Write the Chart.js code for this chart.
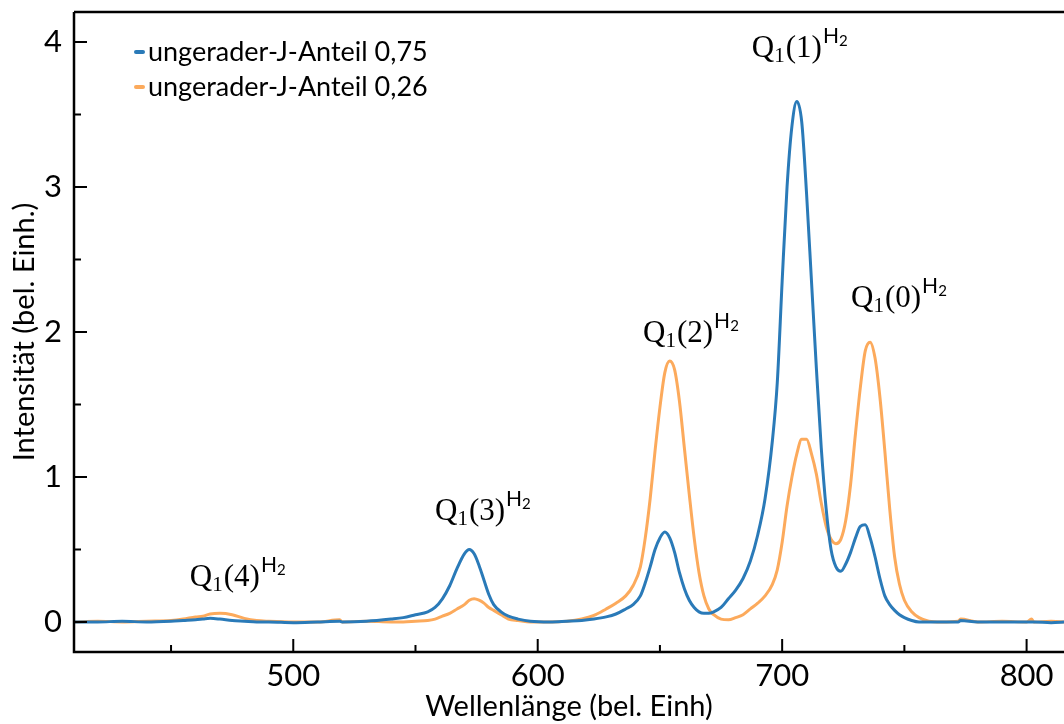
<!DOCTYPE html>
<html>
<head>
<meta charset="utf-8">
<script src="https://cdn.jsdelivr.net/npm/chart.js@4.4.1/dist/chart.umd.min.js"></script>
<style>
  html, body { margin: 0; padding: 0; background: #fff; }
  #wrap { width: 1064px; height: 724px; position: relative; }
</style>
</head>
<body>
<div id="wrap"><canvas id="spectrumChart"></canvas></div>
<script>
// wavelength grid (bel. Einh) shared by both spectra
const wavelengths = [
  410, 420, 430, 440, 450, 455, 460, 463, 466, 470, 475, 480, 485, 490, 500, 510, 519, 520, 530, 540,
  545, 550, 555, 558, 561, 564, 567, 570, 572, 574, 576, 578, 580, 582, 585, 588, 592, 597, 605, 612,
  618, 623, 628, 632, 636, 639, 642, 644, 646, 648, 650, 652, 654, 656, 658, 660, 662, 664, 666, 668,
  670, 672, 675, 678, 681, 684, 687, 690, 693, 696, 698, 700, 702, 704, 706, 708, 710, 712, 714, 716,
  718, 720, 722, 724, 726, 728, 730, 732, 734, 736, 738, 740, 742, 744, 746, 748, 750, 753, 756, 760,
  765, 772, 773, 780, 790, 800, 802, 803, 810, 816
];

// ungerader-J-Anteil 0,75
const intensityOdd075 = [
  0.0, 0.0, 0.005, 0.0, 0.005, 0.01, 0.015, 0.02, 0.025, 0.02, 0.01, 0.005, 0.0, 0.0, -0.005, 0.0, 0.005, 0.0, 0.005, 0.02,
  0.03, 0.05, 0.07, 0.10, 0.16, 0.25, 0.37, 0.47, 0.50, 0.47, 0.39, 0.29, 0.19, 0.12, 0.07, 0.04, 0.02, 0.005, 0.0, 0.005,
  0.01, 0.02, 0.035, 0.055, 0.09, 0.12, 0.18, 0.27, 0.38, 0.50, 0.58, 0.62, 0.58, 0.48, 0.34, 0.23, 0.15, 0.10, 0.07, 0.06,
  0.06, 0.07, 0.10, 0.16, 0.22, 0.30, 0.42, 0.60, 0.85, 1.25, 1.65, 2.35, 3.0, 3.42, 3.59, 3.45, 2.95, 2.35, 1.75, 1.2,
  0.78, 0.5, 0.38, 0.35, 0.40, 0.48, 0.58, 0.66, 0.67, 0.58, 0.45, 0.30, 0.18, 0.12, 0.08, 0.05, 0.03, 0.01, 0.0, 0.0,
  0.0, 0.0, 0.01, 0.0, 0.0, 0.0, 0.0, 0.0, -0.005, 0.0
];

// ungerader-J-Anteil 0,26
const intensityOdd026 = [
  0.0, 0.005, 0.0, 0.005, 0.01, 0.02, 0.035, 0.04, 0.055, 0.06, 0.05, 0.025, 0.01, 0.005, 0.0, 0.0, 0.015, 0.0, 0.005, 0.0,
  0.0, 0.005, 0.01, 0.02, 0.04, 0.06, 0.09, 0.12, 0.15, 0.16, 0.15, 0.13, 0.10, 0.08, 0.05, 0.02, 0.01, 0.0, 0.0, 0.005,
  0.02, 0.045, 0.09, 0.13, 0.18, 0.25, 0.38, 0.58, 0.85, 1.18, 1.48, 1.72, 1.80, 1.74, 1.52, 1.20, 0.88, 0.58, 0.34, 0.18,
  0.09, 0.05, 0.02, 0.015, 0.03, 0.05, 0.09, 0.13, 0.18, 0.26, 0.36, 0.55, 0.80, 1.0, 1.16, 1.26, 1.26, 1.16, 1.02, 0.82,
  0.66, 0.57, 0.54, 0.57, 0.70, 0.95, 1.30, 1.62, 1.87, 1.93, 1.82, 1.55, 1.18, 0.78, 0.45, 0.26, 0.15, 0.07, 0.03, 0.005,
  0.0, 0.005, 0.02, 0.0, 0.005, 0.0, 0.02, 0.0, 0.005, 0.0
];

const seriesLabels = ['ungerader-J-Anteil 0,75', 'ungerader-J-Anteil 0,26'];
const seriesColors = ['#2a7ab8', '#fcaa5c'];

const xTicks = [500, 600, 700, 800];
const xMinorTicks = [450, 550, 650, 750];
const yTicks = [0, 1, 2, 3, 4];
const yMinorTicks = [0.5, 1.5, 2.5, 3.5];

// peak labels: Q_1(J)^{H2}, anchored in data units
const peakLabels = [
  { j: '4', x: 457.7, y: 0.25 },
  { j: '3', x: 558.0, y: 0.70 },
  { j: '2', x: 643.1, y: 1.93 },
  { j: '1', x: 687.6, y: 3.90 },
  { j: '0', x: 728.2, y: 2.17 }
];

const SANS = 'Lato, "Noto Sans", sans-serif';
const SERIF = '"Liberation Serif", "DejaVu Serif", serif';

const toPoints = (values) => wavelengths.map((w, i) => ({ x: w, y: values[i] }));

// frame, inward ticks, legend and peak labels
const decorations = {
  id: 'decorations',
  afterDraw(chart) {
    const { ctx, chartArea, scales } = chart;
    const xs = scales.x, ys = scales.y;
    ctx.save();
    ctx.strokeStyle = '#000';
    ctx.lineWidth = 2.5;
    ctx.lineCap = 'butt';
    ctx.beginPath();
    ctx.moveTo(chartArea.left, chartArea.top);
    ctx.lineTo(chart.width, chartArea.top);
    ctx.moveTo(chartArea.left, chartArea.top);
    ctx.lineTo(chartArea.left, chartArea.bottom);
    ctx.lineTo(chart.width, chartArea.bottom);
    ctx.stroke();

    ctx.lineWidth = 2;
    ctx.beginPath();
    xTicks.forEach(v => {
      const px = xs.getPixelForValue(v);
      ctx.moveTo(px, chartArea.bottom); ctx.lineTo(px, chartArea.bottom - 13);
    });
    xMinorTicks.forEach(v => {
      const px = xs.getPixelForValue(v);
      ctx.moveTo(px, chartArea.bottom); ctx.lineTo(px, chartArea.bottom - 7);
    });
    yTicks.forEach(v => {
      const py = ys.getPixelForValue(v);
      ctx.moveTo(chartArea.left, py); ctx.lineTo(chartArea.left + 13, py);
    });
    yMinorTicks.forEach(v => {
      const py = ys.getPixelForValue(v);
      ctx.moveTo(chartArea.left, py); ctx.lineTo(chartArea.left + 7, py);
    });
    ctx.stroke();

    // legend
    ctx.font = '27px ' + SANS;
    ctx.textBaseline = 'middle';
    ctx.fillStyle = '#000';
    chart.data.datasets.forEach((ds, i) => {
      const y = 52 + i * 35;
      ctx.strokeStyle = ds.borderColor;
      ctx.lineWidth = 4;
      ctx.lineCap = 'round';
      ctx.beginPath();
      ctx.moveTo(136, y); ctx.lineTo(143, y);
      ctx.stroke();
      ctx.fillText(ds.label, 148, y);
    });

    // peak labels
    ctx.textBaseline = 'alphabetic';
    peakLabels.forEach(p => {
      let x = xs.getPixelForValue(p.x);
      const y = ys.getPixelForValue(p.y);
      ctx.font = '31px ' + SERIF;
      ctx.fillText('Q', x, y); x += ctx.measureText('Q').width;
      ctx.font = '21px ' + SERIF;
      ctx.fillText('1', x, y + 5); x += ctx.measureText('1').width + 1;
      ctx.font = '31px ' + SERIF;
      const part = '(' + p.j + ')';
      ctx.fillText(part, x, y); x += ctx.measureText(part).width + 1;
      ctx.font = '21px ' + SANS;
      ctx.fillText('H', x, y - 14); x += ctx.measureText('H').width;
      ctx.font = '15px ' + SANS;
      ctx.fillText('2', x, y - 11);
    });
    ctx.restore();
  }
};

const chart = new Chart(document.getElementById('spectrumChart'), {
  type: 'line',
  data: {
    datasets: [
      { label: seriesLabels[0], data: toPoints(intensityOdd075), borderColor: seriesColors[0] },
      { label: seriesLabels[1], data: toPoints(intensityOdd026), borderColor: seriesColors[1] }
    ].map(ds => Object.assign(ds, {
      borderWidth: 3, pointRadius: 0, fill: false, cubicInterpolationMode: 'monotone'
    }))
  },
  options: {
    responsive: true,
    maintainAspectRatio: false,
    animation: false,
    layout: { padding: { top: 12, right: 0, left: 0, bottom: 0 } },
    plugins: { legend: { display: false }, tooltip: { enabled: false } },
    scales: {
      x: {
        type: 'linear', min: 410.3, max: 815.3,
        grid: { display: false, drawTicks: false },
        border: { display: false },
        afterBuildTicks: (s) => { s.ticks = xTicks.map(v => ({ value: v })); },
        afterFit: (s) => { s.height = 72; s.paddingLeft = 0; s.paddingRight = 0; },
        ticks: { color: '#000', padding: 5, font: { family: SANS, size: 31 } },
        title: { display: true, text: 'Wellenlänge (bel. Einh)', color: '#000',
                 font: { family: SANS, size: 29 }, padding: { top: 0, bottom: 0 } }
      },
      y: {
        min: -0.207, max: 4.207,
        grid: { display: false, drawTicks: false },
        border: { display: false },
        afterBuildTicks: (s) => { s.ticks = yTicks.map(v => ({ value: v })); },
        afterFit: (s) => { s.width = 74; s.paddingTop = 0; s.paddingBottom = 0; },
        ticks: { color: '#000', padding: 12, font: { family: SANS, size: 31 } },
        title: { display: true, text: 'Intensität (bel. Einh.)', color: '#000',
                 font: { family: SANS, size: 29 }, padding: { top: 7, bottom: 0 } }
      }
    }
  },
  plugins: [decorations]
});
</script>
</body>
</html>
